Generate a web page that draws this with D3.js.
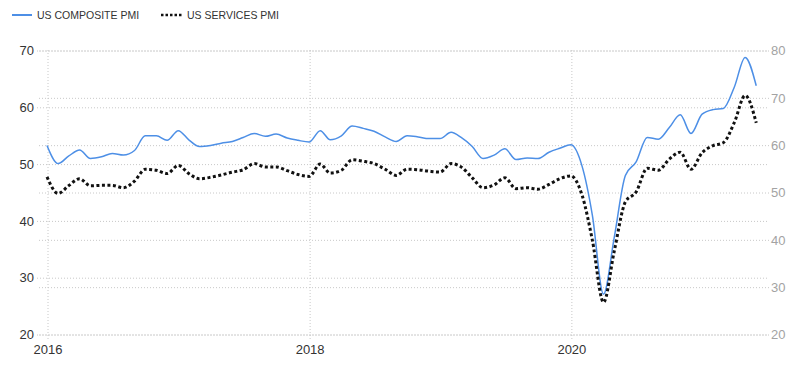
<!DOCTYPE html>
<html>
<head>
<meta charset="utf-8">
<script src="https://cdn.jsdelivr.net/npm/d3@7"></script>
<style>
  body { margin: 0; background: #fff; }
  svg { display: block; font-family: "Liberation Sans", Arial, sans-serif; }
  .grid line { stroke: #c8c8c8; stroke-dasharray: 1,2; }
  .grid .domain { display: none; }
</style>
</head>
<body>
<div id="chart"></div>
<script>
// monthly readings, Jan 2016 .. Jun 2021
const composite2016 = [53.2, 50.0, 51.3, 52.4, 50.9, 51.2, 51.8, 51.5, 52.3, 54.9, 54.9, 54.1];
const composite2017 = [55.8, 54.1, 53.0, 53.2, 53.6, 53.9, 54.6, 55.3, 54.8, 55.2, 54.5, 54.1];
const composite2018 = [53.8, 55.8, 54.2, 54.9, 56.6, 56.2, 55.7, 54.7, 53.9, 54.9, 54.7, 54.4];
const composite2019 = [54.4, 55.5, 54.6, 53.0, 50.9, 51.5, 52.6, 50.7, 51.0, 50.9, 52.0, 52.7];
const composite2020 = [53.3, 49.6, 40.9, 27.0, 37.0, 47.9, 50.3, 54.6, 54.3, 56.3, 58.6, 55.3];
const composite2021 = [58.7, 59.5, 59.7, 63.5, 68.7, 63.7];

const services2016 = [53.2, 49.7, 51.3, 52.8, 51.3, 51.4, 51.4, 50.9, 52.3, 54.8, 54.6, 53.9];
const services2017 = [55.6, 53.8, 52.8, 53.1, 53.6, 54.2, 54.7, 56.0, 55.3, 55.3, 54.5, 53.7];
const services2018 = [53.3, 55.9, 54.0, 54.6, 56.8, 56.5, 56.0, 54.8, 53.5, 54.8, 54.7, 54.4];
const services2019 = [54.2, 56.0, 55.3, 53.0, 50.9, 51.5, 53.0, 50.7, 50.9, 50.6, 51.6, 52.8];
const services2020 = [53.4, 49.4, 39.8, 26.7, 37.5, 47.9, 50.0, 55.0, 54.6, 56.9, 58.4, 54.8];
const services2021 = [58.3, 59.8, 60.4, 64.7, 70.4, 64.6];

const leftTicks = [20, 30, 40, 50, 60, 70];
const rightTicks = [20, 30, 40, 50, 60, 70, 80];
const yearTicks = [2016, 2018, 2020];

const compositeVals = [].concat(composite2016, composite2017, composite2018, composite2019, composite2020, composite2021);
const servicesVals = [].concat(services2016, services2017, services2018, services2019, services2020, services2021);
const months = d3.timeMonth.range(new Date(2016, 0, 1), new Date(2021, 6, 1));

const data = months.map((d, i) => ({ date: d, comp: compositeVals[i], serv: servicesVals[i] }));

const W = 800, H = 369;
const plot = { l: 47, r: 767, t: 50, b: 334 };

const svg = d3.select('#chart').append('svg')
  .attr('width', W)
  .attr('height', H);

const x = d3.scaleTime()
  .domain([new Date(2016, 0, 1), new Date(2021, 6, 1)])
  .range([plot.l, plot.r]);
const yL = d3.scaleLinear().domain([20, 70]).range([plot.b, plot.t]);
const yR = d3.scaleLinear().domain([20, 80]).range([plot.b, plot.t]);

// left axis + its gridlines
const gL = svg.append('g')
  .attr('class', 'grid')
  .attr('transform', 'translate(37,0.5)')
  .call(d3.axisLeft(yL).tickValues(leftTicks).tickSize(-(plot.r - 37)).tickPadding(3).tickFormat(d3.format('d')));
gL.selectAll('text').attr('fill', '#333').style('font-size', '13px');

// right axis + its gridlines
const gR = svg.append('g')
  .attr('class', 'grid')
  .attr('transform', `translate(${plot.r + 2},0.5)`)
  .call(d3.axisRight(yR).tickValues(rightTicks).tickSize(-(plot.r + 2 - 37)).tickPadding(2).tickFormat(d3.format('d')));
gR.selectAll('text').attr('fill', '#a3a3a3').style('font-size', '13px');

// x axis: years
const gX = svg.append('g')
  .attr('class', 'grid')
  .attr('transform', `translate(0.5,${plot.b})`)
  .call(d3.axisBottom(x)
    .tickValues(yearTicks.map(y => new Date(y, 0, 1)))
    .tickSize(0).tickPadding(11)
    .tickFormat(d3.timeFormat('%Y')));
gX.selectAll('.tick line').attr('y1', 5).attr('y2', plot.t - plot.b);
gX.selectAll('text').attr('fill', '#333').style('font-size', '13px');

const lineComp = d3.line()
  .x(d => x(d.date))
  .y(d => yL(d.comp))
  .curve(d3.curveMonotoneX);

const lineServ = d3.line()
  .x(d => x(d.date))
  .y(d => yR(d.serv))
  .curve(d3.curveMonotoneX);

svg.append('path')
  .datum(data)
  .attr('d', lineComp)
  .attr('fill', 'none')
  .attr('stroke', '#4d8fe6')
  .attr('stroke-width', 1.5);

svg.append('path')
  .datum(data)
  .attr('d', lineServ)
  .attr('fill', 'none')
  .attr('stroke', '#111')
  .attr('stroke-width', 3)
  .attr('stroke-dasharray', '3,2.5');

// legend
const legend = svg.append('g').style('font-size', '10.5px');
legend.append('line')
  .attr('x1', 12).attr('x2', 32).attr('y1', 15).attr('y2', 15)
  .attr('stroke', '#4d8fe6').attr('stroke-width', 2);
legend.append('text')
  .attr('x', 37).attr('y', 19)
  .attr('fill', '#333')
  .text('US COMPOSITE PMI');
legend.append('line')
  .attr('x1', 161).attr('x2', 182).attr('y1', 15).attr('y2', 15)
  .attr('stroke', '#111').attr('stroke-width', 2.5).attr('stroke-dasharray', '2.5,2');
legend.append('text')
  .attr('x', 187).attr('y', 19)
  .attr('fill', '#333')
  .text('US SERVICES PMI');
</script>
</body>
</html>
